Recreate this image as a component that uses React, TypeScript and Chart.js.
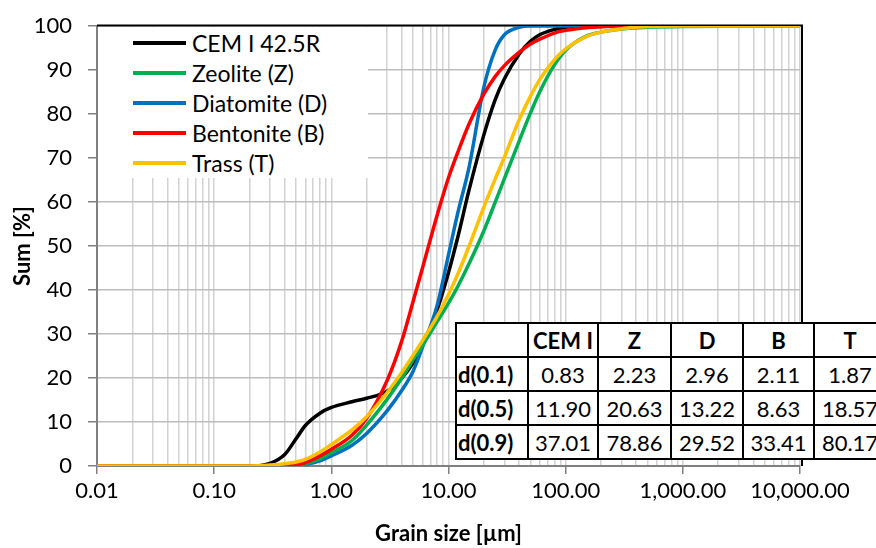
import React, { useEffect, useRef } from 'react';
import { Chart, registerables } from 'chart.js';

Chart.register(...registerables);

const FONT = "Lato, 'Open Sans', 'DejaVu Sans', sans-serif";

// Grain size grid (µm)
const grainSizes = [0.01, 0.2, 0.3, 0.4, 0.5, 0.6, 0.8, 1, 1.5, 2, 3, 4, 5, 6, 8, 10, 12, 15, 20, 25, 30, 40, 50, 60, 80, 100, 150, 200, 300, 500, 1000, 10000];

// Cumulative passing (%)
const cemValues = [0, 0, 0.6, 2.6, 6.2, 9.2, 12, 13.3, 14.6, 15.4, 17, 20, 23.5, 27.5, 35.5, 44, 52, 62.8, 75.2, 83.2, 88, 93.6, 96.5, 98, 99.2, 99.7, 100, 100, 100, 100, 100, 100];
const zeoliteValues = [0, 0, 0, 0.05, 0.15, 0.5, 1.7, 3.0, 5.8, 9.3, 15.2, 20, 24.2, 27.4, 32.8, 37, 40.8, 46, 53.4, 59.9, 65.3, 73.8, 80.2, 85, 91.1, 94.5, 97.7, 98.6, 99.3, 99.7, 99.9, 100];
const diatomiteValues = [0, 0, 0, 0.05, 0.15, 0.4, 1.2, 2.3, 4.7, 7.4, 12.6, 17.2, 21.6, 27, 36.5, 48, 57.5, 68, 86, 94.5, 98, 99.7, 100, 100, 100, 100, 100, 100, 100, 100, 100, 100];
const bentoniteValues = [0, 0, 0, 0.1, 0.3, 0.8, 2.3, 3.8, 7, 10.8, 19.5, 28.5, 37.5, 45, 57, 65.5, 71.3, 77.8, 84.5, 88.5, 91, 94, 95.9, 97, 98.4, 99, 99.6, 99.8, 100, 100, 100, 100];
const trassValues = [0, 0, 0.2, 0.5, 0.9, 1.5, 3.2, 4.9, 8.2, 11.2, 16.7, 21.3, 25.2, 28.5, 34, 39, 43.6, 50, 58.8, 65.2, 70.2, 78.6, 84, 87.8, 92.3, 94.8, 97.6, 98.6, 99.4, 99.9, 100, 100];

const seriesNames = ['CEM I 42.5R', 'Zeolite (Z)', 'Diatomite (D)', 'Bentonite (B)', 'Trass (T)'];
const seriesColors = ['#000000', '#00B050', '#0070C0', '#FF0000', '#FFC000'];
const seriesOrder = [4, 2, 3, 1, 0];

const xTickValues = [0.01, 0.1, 1, 10, 100, 1000, 10000];
const xTickLabels = ['0.01', '0.10', '1.00', '10.00', '100.00', '1,000.00', '10,000.00'];

// Table
const tableHeaders = ['', 'CEM I', 'Z', 'D', 'B', 'T'];
const tableRowLabels = ['d(0.1)', 'd(0.5)', 'd(0.9)'];
const d10 = [0.83, 2.23, 2.96, 2.11, 1.87];
const d50 = [11.9, 20.63, 13.22, 8.63, 18.57];
const d90 = [37.01, 78.86, 29.52, 33.41, 80.17];

const isMajor = (v: number) => {
  if (!v) return false;
  const l = Math.log10(v);
  return Math.abs(l - Math.round(l)) < 1e-6;
};

export default function App() {
  const ref = useRef<HTMLCanvasElement>(null);

  useEffect(() => {
    const canvas = ref.current!;
    const valueSets = [cemValues, zeoliteValues, diatomiteValues, bentoniteValues, trassValues];
    const datasets = valueSets.map((vals, i) => ({
      label: seriesNames[i],
      data: grainSizes.map((x, k) => ({ x, y: vals[k] })),
      borderColor: seriesColors[i],
      backgroundColor: seriesColors[i],
      borderWidth: 3.5,
      pointRadius: 0,
      cubicInterpolationMode: 'monotone' as const,
      fill: false,
      order: seriesOrder[i],
    }));

    const framePlugin = {
      id: 'frame',
      beforeDatasetsDraw(chart: any) {
        const { ctx, chartArea: a } = chart;
        ctx.save();
        ctx.strokeStyle = '#000';
        ctx.lineWidth = 2;
        ctx.beginPath();
        ctx.moveTo(a.left, a.top - 0.5);
        ctx.lineTo(a.right + 2, a.top - 0.5);
        ctx.lineTo(a.right + 2, a.bottom);
        ctx.stroke();
        ctx.restore();
      },
    };

    const chart = new Chart(canvas, {
      type: 'line',
      data: { datasets },
      options: {
        animation: false,
        responsive: false,
        layout: { padding: { left: 0, right: 76, top: 26, bottom: 0 } },
        plugins: { legend: { display: false }, tooltip: { enabled: false } },
        scales: {
          x: {
            type: 'logarithmic',
            min: 0.01,
            max: 10000,
            afterBuildTicks: (axis: any) => {
              const t: any[] = [];
              for (let e = -2; e <= 4; e++) {
                for (let m = 1; m <= 9; m++) {
                  const v = m * Math.pow(10, e);
                  if (v <= 10000.0001) t.push({ value: v });
                }
              }
              axis.ticks = t;
            },
            afterFit: (axis: any) => {
              axis.height = 82;
            },
            ticks: {
              autoSkip: false,
              maxRotation: 0,
              minRotation: 0,
              padding: 4,
              color: '#000',
              font: { family: FONT, size: 22 },
              callback: (v: any) => {
                const i = xTickValues.findIndex((t) => Math.abs(t - Number(v)) / t < 1e-6);
                return i >= 0 ? xTickLabels[i] : '';
              },
            },
            grid: {
              color: '#d2d2d2',
              lineWidth: 1.5,
              tickLength: 8,
              tickColor: (c: any) => (c.tick && isMajor(c.tick.value) ? '#808080' : 'rgba(0,0,0,0)'),
            },
            border: { color: '#808080', width: 2 },
            title: {
              display: true,
              text: 'Grain size [µm]',
              color: '#000',
              font: { family: FONT, size: 22, weight: 'bold' },
              padding: { top: 0, bottom: 1 },
            },
          },
          y: {
            type: 'linear',
            min: 0,
            max: 100,
            afterFit: (axis: any) => {
              axis.width = 97;
              axis.paddingTop = 14;
              axis.paddingBottom = 14;
            },
            ticks: {
              stepSize: 10,
              padding: 16,
              color: '#000',
              font: { family: FONT, size: 22 },
            },
            grid: { color: '#bdbdbd', lineWidth: 1.5, tickLength: 9, tickColor: '#808080' },
            border: { color: '#808080', width: 2 },
            title: {
              display: true,
              text: 'Sum [%]',
              color: '#000',
              font: { family: FONT, size: 22, weight: 'bold' },
              padding: { top: 10, bottom: 0 },
            },
          },
        },
      },
      plugins: [framePlugin],
    } as any);

    return () => chart.destroy();
  }, []);

  const colWidths = [72, 70, 73, 72, 71, 72];
  const rows = [d10, d50, d90];

  const cellBase: React.CSSProperties = {
    border: '2px solid #000',
    padding: 0,
    height: 32,
    textAlign: 'center',
    fontFamily: FONT,
    fontSize: 22,
    color: '#000',
    whiteSpace: 'nowrap',
    overflow: 'hidden',
  };

  return (
    <div style={{ position: 'fixed', left: 0, top: 0, width: 876, height: 548, overflow: 'hidden', background: '#fff' }}>
      <canvas ref={ref} width={876} height={548} style={{ position: 'absolute', left: 0, top: 0 }} />
      <div
        style={{
          position: 'absolute',
          left: 98,
          top: 27,
          width: 270,
          height: 151,
          background: '#fff',
          paddingTop: 1,
          boxSizing: 'border-box',
        }}
      >
        {seriesNames.map((name, i) => (
          <div key={name} style={{ height: 30, display: 'flex', alignItems: 'center' }}>
            <div style={{ marginLeft: 35, width: 53, height: 4, background: seriesColors[i] }} />
            <span style={{ marginLeft: 6, fontFamily: FONT, fontSize: 23, color: '#000', lineHeight: '30px' }}>{name}</span>
          </div>
        ))}
      </div>
      <table
        style={{
          position: 'absolute',
          left: 455,
          top: 322,
          borderCollapse: 'collapse',
          tableLayout: 'fixed',
          background: '#fff',
          width: colWidths.reduce((a, b) => a + b, 0),
        }}
      >
        <colgroup>
          {colWidths.map((w, i) => (
            <col key={i} style={{ width: w }} />
          ))}
        </colgroup>
        <tbody>
          <tr>
            {tableHeaders.map((h, i) => (
              <td key={i} style={{ ...cellBase, fontWeight: 'bold' }}>
                {h}
              </td>
            ))}
          </tr>
          {rows.map((r, ri) => (
            <tr key={ri}>
              <td style={{ ...cellBase, fontWeight: 'bold', textAlign: 'left', paddingLeft: 1 }}>{tableRowLabels[ri]}</td>
              {r.map((v, ci) => (
                <td key={ci} style={cellBase}>
                  {v.toFixed(2)}
                </td>
              ))}
            </tr>
          ))}
        </tbody>
      </table>
    </div>
  );
}
